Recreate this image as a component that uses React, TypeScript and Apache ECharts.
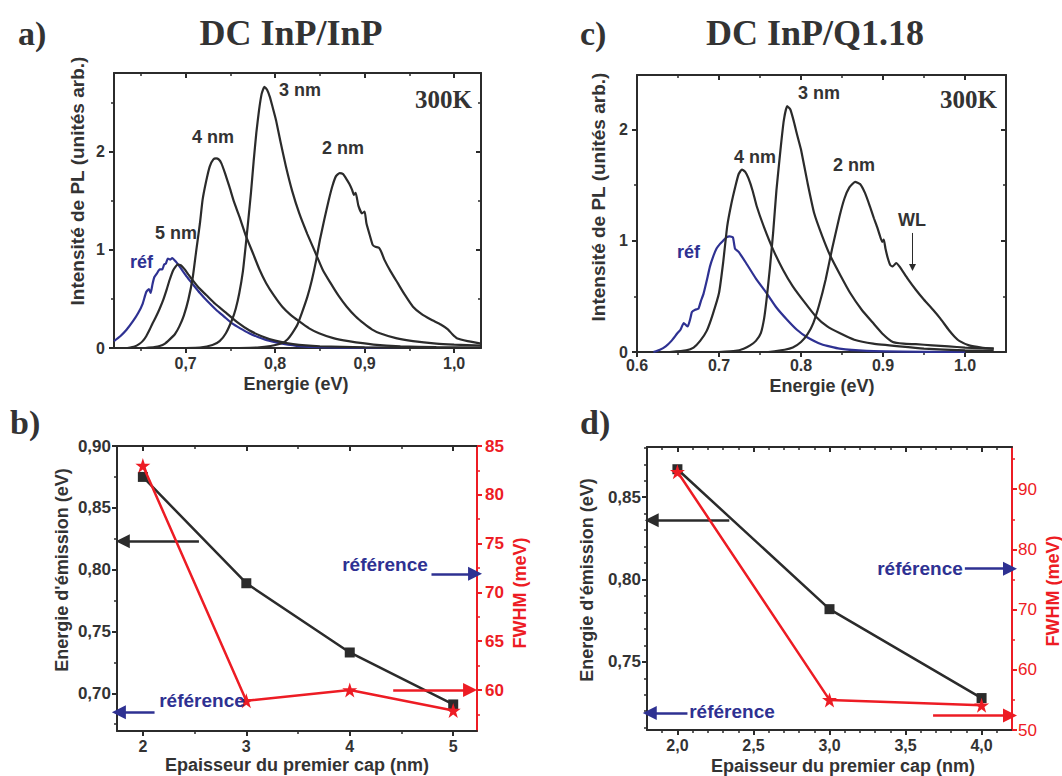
import React, { useEffect, useRef } from 'react';
import * as echarts from 'echarts';

// ---------- Panel a : DC InP/InP, PL spectra [energy (eV), intensity] ----------
const refA = [[0.62,0.07],[0.627,0.12],[0.634,0.186],[0.641,0.27],[0.647,0.356],[0.652,0.45],[0.656,0.57],[0.659,0.6],[0.661,0.56],[0.663,0.65],[0.665,0.72],[0.668,0.76],[0.671,0.8],[0.674,0.8],[0.676,0.85],[0.678,0.86],[0.68,0.91],[0.683,0.9],[0.685,0.915],[0.689,0.88],[0.694,0.82],[0.701,0.73],[0.708,0.65],[0.716,0.56],[0.725,0.47],[0.734,0.39],[0.743,0.32],[0.752,0.25],[0.761,0.2],[0.771,0.15],[0.78,0.115],[0.789,0.085],[0.8,0.06],[0.808,0.045],[0.827,0.02],[0.85,0.008],[0.9,0.002],[0.95,0]];
const nm5A = [[0.635,0],[0.643,0.016],[0.648,0.04],[0.652,0.07],[0.656,0.12],[0.66,0.19],[0.663,0.25],[0.667,0.32],[0.671,0.4],[0.675,0.49],[0.679,0.6],[0.682,0.69],[0.686,0.79],[0.691,0.85],[0.695,0.84],[0.699,0.8],[0.703,0.75],[0.708,0.69],[0.715,0.61],[0.723,0.54],[0.733,0.45],[0.745,0.36],[0.758,0.26],[0.771,0.18],[0.785,0.12],[0.8,0.075],[0.82,0.04],[0.85,0.018],[0.9,0.006],[0.95,0.002],[1.0,0]];
const nm4A = [[0.655,0],[0.665,0.01],[0.671,0.02],[0.677,0.045],[0.682,0.085],[0.688,0.14],[0.693,0.22],[0.698,0.33],[0.703,0.49],[0.708,0.72],[0.712,1.0],[0.716,1.27],[0.719,1.51],[0.723,1.7],[0.727,1.85],[0.731,1.92],[0.734,1.93],[0.737,1.92],[0.74,1.88],[0.744,1.78],[0.749,1.64],[0.754,1.49],[0.76,1.34],[0.767,1.15],[0.775,0.97],[0.782,0.81],[0.79,0.66],[0.799,0.53],[0.808,0.42],[0.817,0.34],[0.827,0.27],[0.838,0.2],[0.849,0.15],[0.865,0.1],[0.882,0.07],[0.91,0.035],[0.94,0.016],[0.98,0.008],[1.03,0.005]];
const nm3A = [[0.7,0],[0.716,0.005],[0.73,0.03],[0.738,0.07],[0.745,0.15],[0.752,0.29],[0.756,0.4],[0.76,0.56],[0.764,0.78],[0.767,1.03],[0.77,1.3],[0.773,1.58],[0.776,1.9],[0.779,2.19],[0.782,2.42],[0.785,2.59],[0.788,2.66],[0.791,2.63],[0.794,2.56],[0.797,2.46],[0.801,2.32],[0.806,2.1],[0.812,1.85],[0.819,1.6],[0.827,1.37],[0.836,1.16],[0.845,0.97],[0.853,0.8],[0.862,0.66],[0.871,0.53],[0.88,0.42],[0.89,0.32],[0.899,0.25],[0.908,0.19],[0.917,0.15],[0.935,0.1],[0.954,0.07],[0.98,0.045],[1.0,0.035],[1.03,0.025]];
const nm2A = [[0.76,0],[0.78,0.005],[0.795,0.02],[0.808,0.05],[0.814,0.09],[0.819,0.15],[0.825,0.24],[0.83,0.36],[0.836,0.52],[0.841,0.69],[0.846,0.9],[0.85,1.1],[0.855,1.31],[0.86,1.51],[0.864,1.65],[0.868,1.75],[0.872,1.78],[0.876,1.77],[0.879,1.73],[0.883,1.67],[0.886,1.61],[0.888,1.56],[0.89,1.58],[0.893,1.45],[0.897,1.37],[0.9,1.39],[0.902,1.27],[0.906,1.14],[0.909,1.05],[0.912,1.03],[0.916,1.02],[0.919,0.97],[0.922,0.9],[0.929,0.78],[0.937,0.66],[0.945,0.54],[0.954,0.42],[0.963,0.35],[0.974,0.29],[0.985,0.24],[0.993,0.19],[0.998,0.14],[1.003,0.1],[1.015,0.07],[1.03,0.045]];

// ---------- Panel c : DC InP/Q1.18 ----------
const refC = [[0.62,0],[0.628,0.02],[0.635,0.05],[0.642,0.1],[0.649,0.166],[0.653,0.2],[0.657,0.26],[0.66,0.24],[0.662,0.23],[0.665,0.3],[0.667,0.36],[0.671,0.38],[0.675,0.39],[0.678,0.46],[0.681,0.52],[0.685,0.64],[0.689,0.77],[0.693,0.86],[0.697,0.93],[0.701,0.97],[0.705,1.0],[0.709,1.03],[0.713,1.04],[0.717,1.03],[0.7195,0.93],[0.724,0.9],[0.733,0.8],[0.745,0.66],[0.758,0.53],[0.77,0.4],[0.783,0.29],[0.795,0.2],[0.807,0.135],[0.825,0.07],[0.847,0.03],[0.88,0.01],[0.95,0.002],[1.0,0]];
const nm4C = [[0.64,0],[0.66,0.015],[0.669,0.04],[0.677,0.1],[0.685,0.19],[0.692,0.33],[0.7,0.53],[0.705,0.8],[0.71,1.13],[0.715,1.33],[0.72,1.49],[0.724,1.6],[0.728,1.64],[0.732,1.62],[0.736,1.56],[0.741,1.45],[0.746,1.31],[0.755,1.12],[0.766,0.92],[0.778,0.74],[0.79,0.59],[0.804,0.45],[0.818,0.32],[0.832,0.23],[0.847,0.17],[0.865,0.11],[0.888,0.075],[0.92,0.05],[0.95,0.03],[1.0,0.015],[1.035,0.01]];
const nm3C = [[0.7,0],[0.72,0.01],[0.73,0.03],[0.738,0.06],[0.745,0.1],[0.751,0.17],[0.755,0.3],[0.758,0.47],[0.762,0.75],[0.766,1.07],[0.77,1.45],[0.775,1.82],[0.779,2.08],[0.783,2.21],[0.787,2.18],[0.791,2.08],[0.795,1.96],[0.8,1.82],[0.808,1.52],[0.816,1.25],[0.826,1.04],[0.836,0.86],[0.848,0.69],[0.86,0.53],[0.874,0.38],[0.888,0.26],[0.9,0.16],[0.912,0.09],[0.925,0.075],[0.94,0.07],[0.96,0.06],[0.98,0.05],[1.0,0.04],[1.035,0.03]];
const nm2C = [[0.76,0],[0.78,0.02],[0.79,0.04],[0.8,0.09],[0.808,0.16],[0.815,0.26],[0.822,0.42],[0.83,0.65],[0.838,0.93],[0.847,1.22],[0.853,1.38],[0.859,1.48],[0.866,1.53],[0.872,1.51],[0.878,1.43],[0.884,1.31],[0.889,1.2],[0.893,1.12],[0.896,1.05],[0.899,0.99],[0.901,1.01],[0.903,0.93],[0.906,0.84],[0.909,0.78],[0.912,0.77],[0.916,0.8],[0.92,0.77],[0.93,0.66],[0.94,0.56],[0.95,0.47],[0.961,0.38],[0.97,0.3],[0.98,0.2],[0.987,0.14],[0.993,0.1],[1.005,0.06],[1.02,0.04],[1.035,0.03]];

// ---------- Panels b and d : emission energy & FWHM vs cap thickness ----------
const thicknessB = [2, 3, 4, 5];
const energyB = [0.875, 0.789, 0.733, 0.691];
const fwhmB = [83.0, 58.9, 60.0, 57.9];
const thicknessD = [2, 3, 4];
const energyD = [0.867, 0.782, 0.728];
const fwhmD = [92.9, 55.0, 54.1];
// reference values (arrows)
const refEnergyB = 0.6846, refFwhmB = 71.9, cutoffEnergyB = 0.823, cutoffFwhmB = 60.0;
const refEnergyD = 0.719, refFwhmD = 76.8, cutoffEnergyD = 0.836, cutoffFwhmD = 52.4;

// ---------- tick values ----------
const ticksAx = [0.7, 0.8, 0.9, 1.0], minorAx = [0.65, 0.75, 0.85, 0.95];
const ticksAy = [0, 1, 2], minorAy = [0.5, 1.5, 2.5];
const ticksCx = [0.6, 0.7, 0.8, 0.9, 1.0], minorCx = [0.65, 0.75, 0.85, 0.95];
const ticksCy = [0, 1, 2], minorCy = [0.5, 1.5];
const ticksBx = [2, 3, 4, 5], minorBx = [2.5, 3.5, 4.5];
const ticksBy = [0.7, 0.75, 0.8, 0.85, 0.9], minorBy = [0.675, 0.725, 0.775, 0.825, 0.875];
const ticksBr = [60, 65, 70, 75, 80, 85], minorBr = [57.5, 62.5, 67.5, 72.5, 77.5, 82.5];
const ticksDx = [2, 2.5, 3, 3.5, 4], minorDx = [1.9, 2.1, 2.2, 2.3, 2.4, 2.6, 2.7, 2.8, 2.9, 3.1, 3.2, 3.3, 3.4, 3.6, 3.7, 3.8, 3.9, 4.1];
const ticksDy = [0.75, 0.8, 0.85], minorDy = [0.71, 0.72, 0.73, 0.74, 0.76, 0.77, 0.78, 0.79, 0.81, 0.82, 0.83, 0.84, 0.86, 0.87, 0.88];
const ticksDr = [50, 60, 70, 80, 90], minorDr = [55, 65, 75, 85, 95];

const DARK = '#2b2b2b';
const TXT = '#333333';
const RED = '#ed1c24';
const BLUE = '#2e3192';
const SANS = '"Liberation Sans", Arial, Helvetica, sans-serif';
const SERIF = '"Liberation Serif", "Times New Roman", serif';
const STAR = 'path://M12,0 L14.9,8.6 L24,8.6 L16.6,13.9 L19.4,22.6 L12,17.3 L4.6,22.6 L7.4,13.9 L0,8.6 L9.1,8.6 Z';

const fmt = (d: number, sep: string) => (v: number) => v.toFixed(d).replace('.', sep);

function axis(grid: number, pos: string, min: number, max: number, values: number[], o: any = {}) {
  const color = o.color || DARK;
  return {
    type: 'value', gridIndex: grid, position: pos, min, max, silent: true,
    axisLine: { show: !!o.line, onZero: false, lineStyle: { color, width: 2 } },
    axisTick: { show: true, inside: !!o.inside, length: o.len || 5, customValues: values, lineStyle: { color, width: o.tw || 2 } },
    axisLabel: o.label ? { show: true, customValues: values, fontFamily: SANS, ...o.label } : { show: false },
    splitLine: { show: false },
    axisPointer: { show: false },
  };
}

function axisSet(list: any[], grid: number, main: string, mirror: string | null, min: number, max: number, majors: number[], minors: number[], label: any, color?: string) {
  const idx = list.length;
  list.push(axis(grid, main, min, max, majors, { line: true, len: 5, label, color }));
  list.push(axis(grid, main, min, max, minors, { len: 3, tw: 1.5, color }));
  if (mirror) {
    list.push(axis(grid, mirror, min, max, majors, { line: true, inside: true, len: 5, color }));
    list.push(axis(grid, mirror, min, max, minors, { inside: true, len: 3, tw: 1.5, color }));
  }
  return idx;
}

function txt(x: number, y: number, text: string, size: number, o: any = {}) {
  const align = o.align || 'left';
  return {
    type: 'text', x, y, rotation: o.rot || 0, silent: true, z: 100,
    style: {
      text, fill: o.color || TXT,
      font: `${o.weight || 'bold'} ${size}px ${o.family || SANS}`,
      textAlign: align, align, textVerticalAlign: 'middle', verticalAlign: 'middle',
    },
  };
}

function arrow(x1: number, y1: number, x2: number, y2: number, color: string, width = 2.5) {
  return [
    { coord: [x1, y1], lineStyle: { color, width, type: 'solid' }, symbol: 'none' },
    { coord: [x2, y2], symbol: 'triangle' },
  ];
}

function buildOption() {
  const xAxes: any[] = [];
  const yAxes: any[] = [];
  const lab = (f: any, size: number, color = TXT, weight = 'bold', margin = 8) => ({ formatter: f, fontSize: size, color, fontWeight: weight, margin });

  // panel a (grid 0)
  const axA = axisSet(xAxes, 0, 'bottom', 'top', 0.62, 1.03, ticksAx, minorAx, lab(fmt(1, ','), 16, TXT, 'bold', 7));
  const ayA = axisSet(yAxes, 0, 'left', 'right', 0, 2.8, ticksAy, minorAy, lab(fmt(0, ','), 16, TXT, 'bold', 9));
  // panel c (grid 1)
  const axC = axisSet(xAxes, 1, 'bottom', 'top', 0.6, 1.05, ticksCx, minorCx, lab(fmt(1, '.'), 16, TXT, 'bold', 5));
  const ayC = axisSet(yAxes, 1, 'left', 'right', 0, 2.49, ticksCy, minorCy, lab(fmt(0, '.'), 16, TXT, 'bold', 9));
  // panel b (grid 2)
  const axB = axisSet(xAxes, 2, 'bottom', 'top', 1.75, 5.23, ticksBx, minorBx, lab(fmt(0, ','), 16, TXT, 'bold', 7));
  const ayB = axisSet(yAxes, 2, 'left', null, 0.6695, 0.9, ticksBy, minorBy, lab(fmt(2, ','), 17, TXT, 'bold', 6));
  const ayBr = axisSet(yAxes, 2, 'right', null, 55.8, 85, ticksBr, minorBr, lab(fmt(0, ','), 17, RED, 'bold', 8), RED);
  // panel d (grid 3)
  const axD = axisSet(xAxes, 3, 'bottom', 'top', 1.8, 4.2, ticksDx, minorDx, lab(fmt(1, ','), 16, TXT, 'bold', 7));
  const ayD = axisSet(yAxes, 3, 'left', null, 0.7086, 0.8805, ticksDy, minorDy, lab(fmt(2, ','), 17, TXT, 'bold', 6));
  const ayDr = axisSet(yAxes, 3, 'right', null, 50, 97, ticksDr, minorDr, lab(fmt(0, ','), 17, RED, 'normal', 6), RED);

  const spec = (name: string, data: number[][], color: string, xi: number, yi: number, extra: any = {}) => ({
    name, type: 'line', data, xAxisIndex: xi, yAxisIndex: yi, showSymbol: false, symbol: 'none',
    smooth: 0.15, lineStyle: { color, width: 2.2 }, itemStyle: { color }, silent: true, z: 3, ...extra,
  });

  const series: any[] = [
    spec('réf a', refA, BLUE, axA, ayA),
    spec('5 nm a', nm5A, DARK, axA, ayA),
    spec('4 nm a', nm4A, DARK, axA, ayA),
    spec('3 nm a', nm3A, DARK, axA, ayA),
    spec('2 nm a', nm2A, DARK, axA, ayA),
    spec('réf c', refC, BLUE, axC, ayC),
    spec('4 nm c', nm4C, DARK, axC, ayC),
    spec('3 nm c', nm3C, DARK, axC, ayC),
    spec('2 nm c', nm2C, DARK, axC, ayC, {
      markLine: {
        silent: true, animation: false, symbolSize: 7, label: { show: false },
        data: [arrow(0.936, 1.07, 0.936, 0.76, DARK, 1)],
      },
    }),
    {
      name: 'énergie b', type: 'line', xAxisIndex: axB, yAxisIndex: ayB, silent: true, z: 4,
      data: thicknessB.map((t, i) => [t, energyB[i]]),
      symbol: 'rect', symbolSize: 10, showSymbol: true,
      lineStyle: { color: DARK, width: 2.5 }, itemStyle: { color: DARK },
      markLine: {
        silent: true, animation: false, symbolSize: 14, label: { show: false },
        data: [arrow(2.542, cutoffEnergyB, 1.806, cutoffEnergyB, DARK), arrow(2.113, refEnergyB, 1.768, refEnergyB, BLUE)],
      },
    },
    {
      name: 'FWHM b', type: 'line', xAxisIndex: axB, yAxisIndex: ayBr, silent: true, z: 5,
      data: thicknessB.map((t, i) => [t, fwhmB[i]]),
      symbol: STAR, symbolSize: 15, showSymbol: true,
      lineStyle: { color: RED, width: 2.5 }, itemStyle: { color: RED },
      markLine: {
        silent: true, animation: false, symbolSize: 14, label: { show: false },
        data: [arrow(4.79, refFwhmB, 5.211, refFwhmB, BLUE), arrow(4.42, cutoffFwhmB, 5.163, cutoffFwhmB, RED)],
      },
    },
    {
      name: 'énergie d', type: 'line', xAxisIndex: axD, yAxisIndex: ayD, silent: true, z: 4,
      data: thicknessD.map((t, i) => [t, energyD[i]]),
      symbol: 'rect', symbolSize: 10, showSymbol: true,
      lineStyle: { color: DARK, width: 2.5 }, itemStyle: { color: DARK },
      markLine: {
        silent: true, animation: false, symbolSize: 14, label: { show: false },
        data: [arrow(2.341, cutoffEnergyD, 1.831, cutoffEnergyD, DARK), arrow(2.066, refEnergyD, 1.818, refEnergyD, BLUE)],
      },
    },
    {
      name: 'FWHM d', type: 'line', xAxisIndex: axD, yAxisIndex: ayDr, silent: true, z: 5,
      data: thicknessD.map((t, i) => [t, fwhmD[i]]),
      symbol: STAR, symbolSize: 15, showSymbol: true,
      lineStyle: { color: RED, width: 2.5 }, itemStyle: { color: RED },
      markLine: {
        silent: true, animation: false, symbolSize: 14, label: { show: false },
        data: [arrow(3.89, refFwhmD, 4.187, refFwhmD, BLUE), arrow(3.681, cutoffFwhmD, 4.187, cutoffFwhmD, RED)],
      },
    },
  ];

  const R = Math.PI / 2;
  const elements = [
    // panel letters and titles
    txt(18, 33, 'a)', 34, { family: SERIF }),
    txt(291, 33, 'DC InP/InP', 36, { family: SERIF, align: 'center' }),
    txt(580, 33, 'c)', 34, { family: SERIF }),
    txt(815, 33, 'DC InP/Q1.18', 36, { family: SERIF, align: 'center' }),
    txt(10, 422, 'b)', 34, { family: SERIF }),
    txt(580, 422, 'd)', 34, { family: SERIF }),
    txt(472, 99, '300K', 25, { family: SERIF, align: 'right' }),
    txt(997, 99, '300K', 25, { family: SERIF, align: 'right' }),
    // curve labels a
    txt(279, 90, '3 nm', 18),
    txt(192, 137, '4 nm', 18),
    txt(322, 148, '2 nm', 18),
    txt(155, 233, '5 nm', 18),
    txt(130, 262, 'réf', 18, { color: BLUE }),
    // curve labels c
    txt(798, 93, '3 nm', 18),
    txt(734, 157, '4 nm', 18),
    txt(833, 165, '2 nm', 18),
    txt(898, 220, 'WL', 18),
    txt(677, 252, 'réf', 18, { color: BLUE }),
    // référence labels
    txt(385, 564, 'référence', 19, { color: BLUE, align: 'center' }),
    txt(202, 700, 'référence', 19, { color: BLUE, align: 'center' }),
    txt(920, 568, 'référence', 19, { color: BLUE, align: 'center' }),
    txt(732, 711, 'référence', 19, { color: BLUE, align: 'center' }),
    // axis titles
    txt(77, 181, 'Intensité de PL (unités arb.)', 19, { rot: R, align: 'center' }),
    txt(296, 384, 'Energie (eV)', 18, { align: 'center' }),
    txt(598, 197, 'Intensité de PL (unités arb.)', 19, { rot: R, align: 'center' }),
    txt(822, 386, 'Energie (eV)', 18, { align: 'center' }),
    txt(62, 570, "Energie d'émission (eV)", 18, { rot: R, align: 'center' }),
    txt(520, 593, 'FWHM (meV)', 18, { rot: R, align: 'center', color: RED }),
    txt(297, 765, 'Epaisseur du premier cap (nm)', 18, { align: 'center' }),
    txt(587, 580, "Energie d'émission (eV)", 18, { rot: R, align: 'center' }),
    txt(1053, 591, 'FWHM (meV)', 18, { rot: R, align: 'center', color: RED }),
    txt(843, 766, 'Epaisseur du premier cap (nm)', 18, { align: 'center' }),
  ];

  return {
    animation: false,
    backgroundColor: '#ffffff',
    grid: [
      { left: 114, top: 73, width: 367, height: 275 },
      { left: 637, top: 75, width: 369, height: 277 },
      { left: 117, top: 446, width: 360, height: 285 },
      { left: 647, top: 447, width: 365, height: 283 },
    ],
    xAxis: xAxes,
    yAxis: yAxes,
    series,
    graphic: { elements },
  };
}

export default function App() {
  const ref = useRef<HTMLDivElement>(null);
  useEffect(() => {
    if (!ref.current) return;
    const chart = echarts.init(ref.current, undefined, { renderer: 'svg' });
    chart.setOption(buildOption() as any);
    return () => chart.dispose();
  }, []);
  return (
    <div
      ref={ref}
      style={{ position: 'fixed', left: 0, top: 0, width: 1062, height: 776, background: '#fff' }}
    />
  );
}
